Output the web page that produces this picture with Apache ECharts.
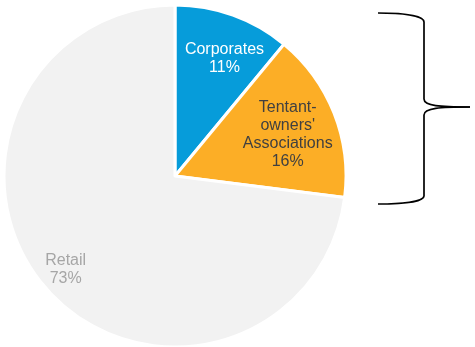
<!DOCTYPE html>
<html>
<head>
<meta charset="utf-8">
<script src="https://cdn.jsdelivr.net/npm/echarts@6/dist/echarts.min.js"></script>
<style>
  html, body { margin: 0; padding: 0; background: #fff; }
  #chart { width: 475px; height: 347px; }
</style>
</head>
<body>
<div id="chart"></div>
<script>
// Customer segments and their shares (%)
const segments = ['Corporates', "Tentant-\nowners'\nAssociations", 'Retail'];
const shares = [11, 16, 73];
const sliceColors = ['#069CDA', '#FCAE26', '#F2F2F2'];
const labelColors = ['#ffffff', '#404040', '#A6A6A6'];
// label placement: distance from centre (fraction of radius) and angular nudge (deg)
const labelRadiusFrac = [0.725, 0.685, 0.826];
const labelAngleNudge = [3.2, 1.4, 0.7];

const CX = 175, CY = 176, R = 171;

// mid-angle (clockwise from 12 o'clock) of each slice, in radians
const total = shares.reduce((a, b) => a + b, 0);
const midAngles = [];
let acc = 0;
shares.forEach(v => {
  midAngles.push(((acc + v / 2) / total) * 2 * Math.PI);
  acc += v;
});

const chart = echarts.init(document.getElementById('chart'), null, { renderer: 'canvas' });

// curly brace grouping the two non-retail segments
const braceStyle = { stroke: '#000000', lineWidth: 1.7, fill: null };
const curve = (x1, y1, c1x, c1y, c2x, c2y, x2, y2) => ({
  type: 'bezierCurve',
  shape: { x1, y1, cpx1: c1x, cpy1: c1y, cpx2: c2x, cpy2: c2y, x2, y2 },
  style: braceStyle
});
const seg = (x1, y1, x2, y2) => ({
  type: 'line',
  shape: { x1, y1, x2, y2 },
  style: braceStyle
});

chart.setOption({
  animation: false,
  backgroundColor: '#ffffff',
  series: [{
    type: 'pie',
    center: [CX, CY],
    radius: [0, R],
    startAngle: 90,
    clockwise: true,
    silent: true,
    itemStyle: { borderColor: '#ffffff', borderWidth: 3 },
    label: {
      show: true,
      position: 'inside',
      fontFamily: 'Liberation Sans, Arial, sans-serif',
      fontSize: 16,
      lineHeight: 18,
      align: 'center',
      formatter: p => p.name + '\n' + p.value + '%'
    },
    // move each label from the default half-radius spot to its own place
    labelLayout: p => {
      const i = p.dataIndex;
      const a0 = midAngles[i];
      const a1 = a0 + labelAngleNudge[i] * Math.PI / 180;
      const r0 = 0.5 * R, r1 = labelRadiusFrac[i] * R;
      return {
        dx: r1 * Math.sin(a1) - r0 * Math.sin(a0),
        dy: -r1 * Math.cos(a1) + r0 * Math.cos(a0)
      };
    },
    data: segments.map((name, i) => ({
      name,
      value: shares[i],
      itemStyle: { color: sliceColors[i] },
      label: { color: labelColors[i] }
    }))
  }],
  graphic: [
    curve(378, 13, 400, 13, 424, 15, 424, 22),
    seg(424, 22, 424, 99),
    curve(424, 99, 424, 106, 440, 107, 470, 107),
    curve(470, 107, 440, 107, 424, 108, 424, 115),
    seg(424, 115, 424, 196),
    curve(424, 196, 424, 202, 400, 204, 378, 204)
  ]
});
</script>
</body>
</html>
